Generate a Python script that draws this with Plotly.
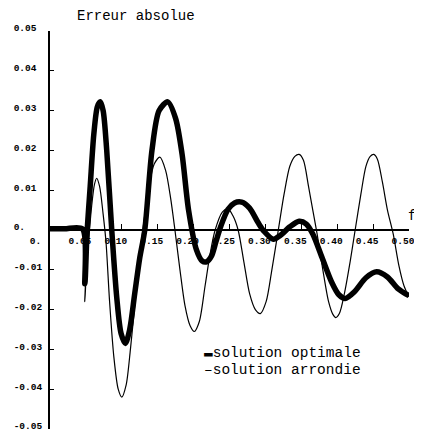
import plotly.graph_objects as go

# ---- data ----
f_opt = [0.000, 0.020, 0.045, 0.0485, 0.0515, 0.056, 0.061, 0.066, 0.070, 0.074, 0.079,
         0.086, 0.093, 0.099, 0.105, 0.111, 0.118, 0.125, 0.132, 0.142, 0.152, 0.164,
         0.175, 0.184, 0.193, 0.204, 0.212, 0.218, 0.225, 0.231, 0.238, 0.248, 0.257,
         0.267, 0.278, 0.290, 0.298, 0.311, 0.322, 0.334, 0.347, 0.357, 0.366, 0.379,
         0.392, 0.402, 0.411, 0.424, 0.440, 0.455, 0.470, 0.485, 0.500]
err_opt = [0.0003, 0.0003, 0.0003, -0.0135, -0.001, 0.011, 0.024, 0.031, 0.0322, 0.030, 0.020,
           0.000, -0.017, -0.026, -0.0285, -0.025, -0.016, -0.007, 0.000, 0.020, 0.030, 0.0322,
           0.028, 0.019, 0.005, -0.005, -0.0078, -0.008, -0.0065, -0.003, 0.001, 0.0052, 0.0068,
           0.0070, 0.0055, 0.0018, -0.0003, -0.0023, -0.0012, 0.0008, 0.0022, 0.0015, -0.001, -0.007,
           -0.0130, -0.0162, -0.0172, -0.0155, -0.0120, -0.0105, -0.0118, -0.0148, -0.0165]

f_arr = [0.000, 0.020, 0.0455, 0.0485, 0.051, 0.054, 0.058, 0.062, 0.065, 0.069, 0.074,
         0.078, 0.083, 0.089, 0.095, 0.100, 0.106, 0.112, 0.118, 0.124, 0.130, 0.137,
         0.145, 0.153, 0.161, 0.168, 0.174, 0.181, 0.188, 0.195, 0.201, 0.208, 0.216,
         0.223, 0.230, 0.240, 0.248, 0.255, 0.262, 0.270, 0.278, 0.286, 0.293, 0.301,
         0.309, 0.318, 0.326, 0.334, 0.341, 0.347, 0.353, 0.360, 0.366, 0.372, 0.380,
         0.388, 0.394, 0.398, 0.403, 0.410, 0.418, 0.425, 0.433, 0.440, 0.446, 0.451,
         0.456, 0.463, 0.470, 0.478, 0.486, 0.493, 0.500]
err_arr = [0.0002, 0.0002, 0.0002, -0.018, -0.008, -0.002, 0.006, 0.0115, 0.0130, 0.011, 0.004,
           -0.003, -0.018, -0.032, -0.040, -0.0420, -0.039, -0.030, -0.019, -0.008, 0.001, 0.010,
           0.0165, 0.0183, 0.015, 0.008, 0.000, -0.010, -0.019, -0.024, -0.0255, -0.023, -0.014,
           -0.006, 0.000, 0.0045, 0.0053, 0.0035, 0.000, -0.008, -0.016, -0.0200, -0.0210, -0.018,
           -0.010, 0.000, 0.009, 0.016, 0.0185, 0.0190, 0.0175, 0.011, 0.005, -0.001, -0.010,
           -0.018, -0.0212, -0.0220, -0.021, -0.016, -0.008, 0.000, 0.009, 0.016, 0.0185, 0.0190,
           0.0178, 0.012, 0.005, -0.001, -0.009, -0.014, -0.0168]

NB = "\u00a0"
y_ticks = [0.05, 0.04, 0.03, 0.02, 0.01, 0.0, -0.01, -0.02, -0.03, -0.04, -0.05]
y_tick_labels = ["0.05" + NB, "0.04" + NB, "0.03" + NB, "0.02" + NB, "0.01" + NB,
                 "0." + NB * 3, "-0.01", "-0.02", "-0.03", "-0.04", "-0.05"]
x_ticks = [0.0, 0.05, 0.10, 0.15, 0.20, 0.25, 0.30, 0.35, 0.40, 0.45, 0.50]
x_tick_labels = ["0." + NB * 3, "0.05", "0.10", "0.15", "0.20", "0.25",
                 "0.30", "0.35", "0.40", "0.45", "0.50"]

title_text = "Erreur absolue"
axis_name = "f"
legend_opt = "solution optimale"
legend_arr = "solution arrondie"

FONT = "Liberation Mono"

fig = go.Figure()
fig.add_trace(go.Scatter(x=f_arr, y=err_arr, mode="lines", name=legend_arr,
                         line=dict(color="black", width=1.2, shape="spline", smoothing=0.8),
                         showlegend=False))
fig.add_trace(go.Scatter(x=f_opt, y=err_opt, mode="lines", name=legend_opt,
                         line=dict(color="black", width=5.5, shape="spline", smoothing=0.8),
                         showlegend=False))

# the page body adds an 8px offset; margins compensate so the plot area lands
# at x 50..409, y 31..429 of the window
fig.update_layout(
    width=422, height=430,
    margin=dict(l=42, r=21, t=23, b=9, pad=0, autoexpand=False),
    paper_bgcolor="white", plot_bgcolor="white",
    font=dict(family=FONT, color="black", size=10),
    xaxis=dict(range=[0, 0.5], tickvals=x_ticks, ticktext=x_tick_labels,
               showgrid=False, zeroline=False, showline=True, linecolor="black",
               linewidth=1.5, ticks="inside", ticklen=5, tickwidth=1.2, tickcolor="black",
               anchor="free", position=0.5, side="bottom", automargin=False,
               ticklabelshift=-6, ticklabelstandoff=2, ticklabeloverflow="allow",
               tickfont=dict(family=FONT, size=9.5, weight="bold")),
    yaxis=dict(range=[-0.05, 0.05], tickvals=y_ticks, ticktext=y_tick_labels,
               showgrid=False, zeroline=False, showline=True, linecolor="black",
               linewidth=1.8, ticks="inside", ticklen=4, tickwidth=1.2, tickcolor="black",
               automargin=False,
               ticklabelstandoff=4, ticklabelshift=-3, ticklabeloverflow="allow",
               tickfont=dict(family=FONT, size=9.5, weight="bold")),
    annotations=[
        dict(text=title_text, x=0.12, y=1.0, xref="x", yref="paper", yshift=5,
             showarrow=False, xanchor="center", yanchor="bottom",
             font=dict(family=FONT, size=14, color="black")),
        dict(text=axis_name, x=0.5, y=0, xref="x", yref="y", xshift=3, yshift=4,
             showarrow=False, xanchor="center", yanchor="bottom",
             font=dict(family=FONT, size=14, color="black")),
        dict(text="<b>\u25ac</b>" + legend_opt, x=0.212, y=-0.031, xref="x", yref="y",
             showarrow=False, xanchor="left", yanchor="middle",
             font=dict(family=FONT, size=14.5, color="black")),
        dict(text="\u2013" + legend_arr, x=0.212, y=-0.0353, xref="x", yref="y",
             showarrow=False, xanchor="left", yanchor="middle",
             font=dict(family=FONT, size=14.5, color="black")),
    ],
)

fig.write_html("out.html")
